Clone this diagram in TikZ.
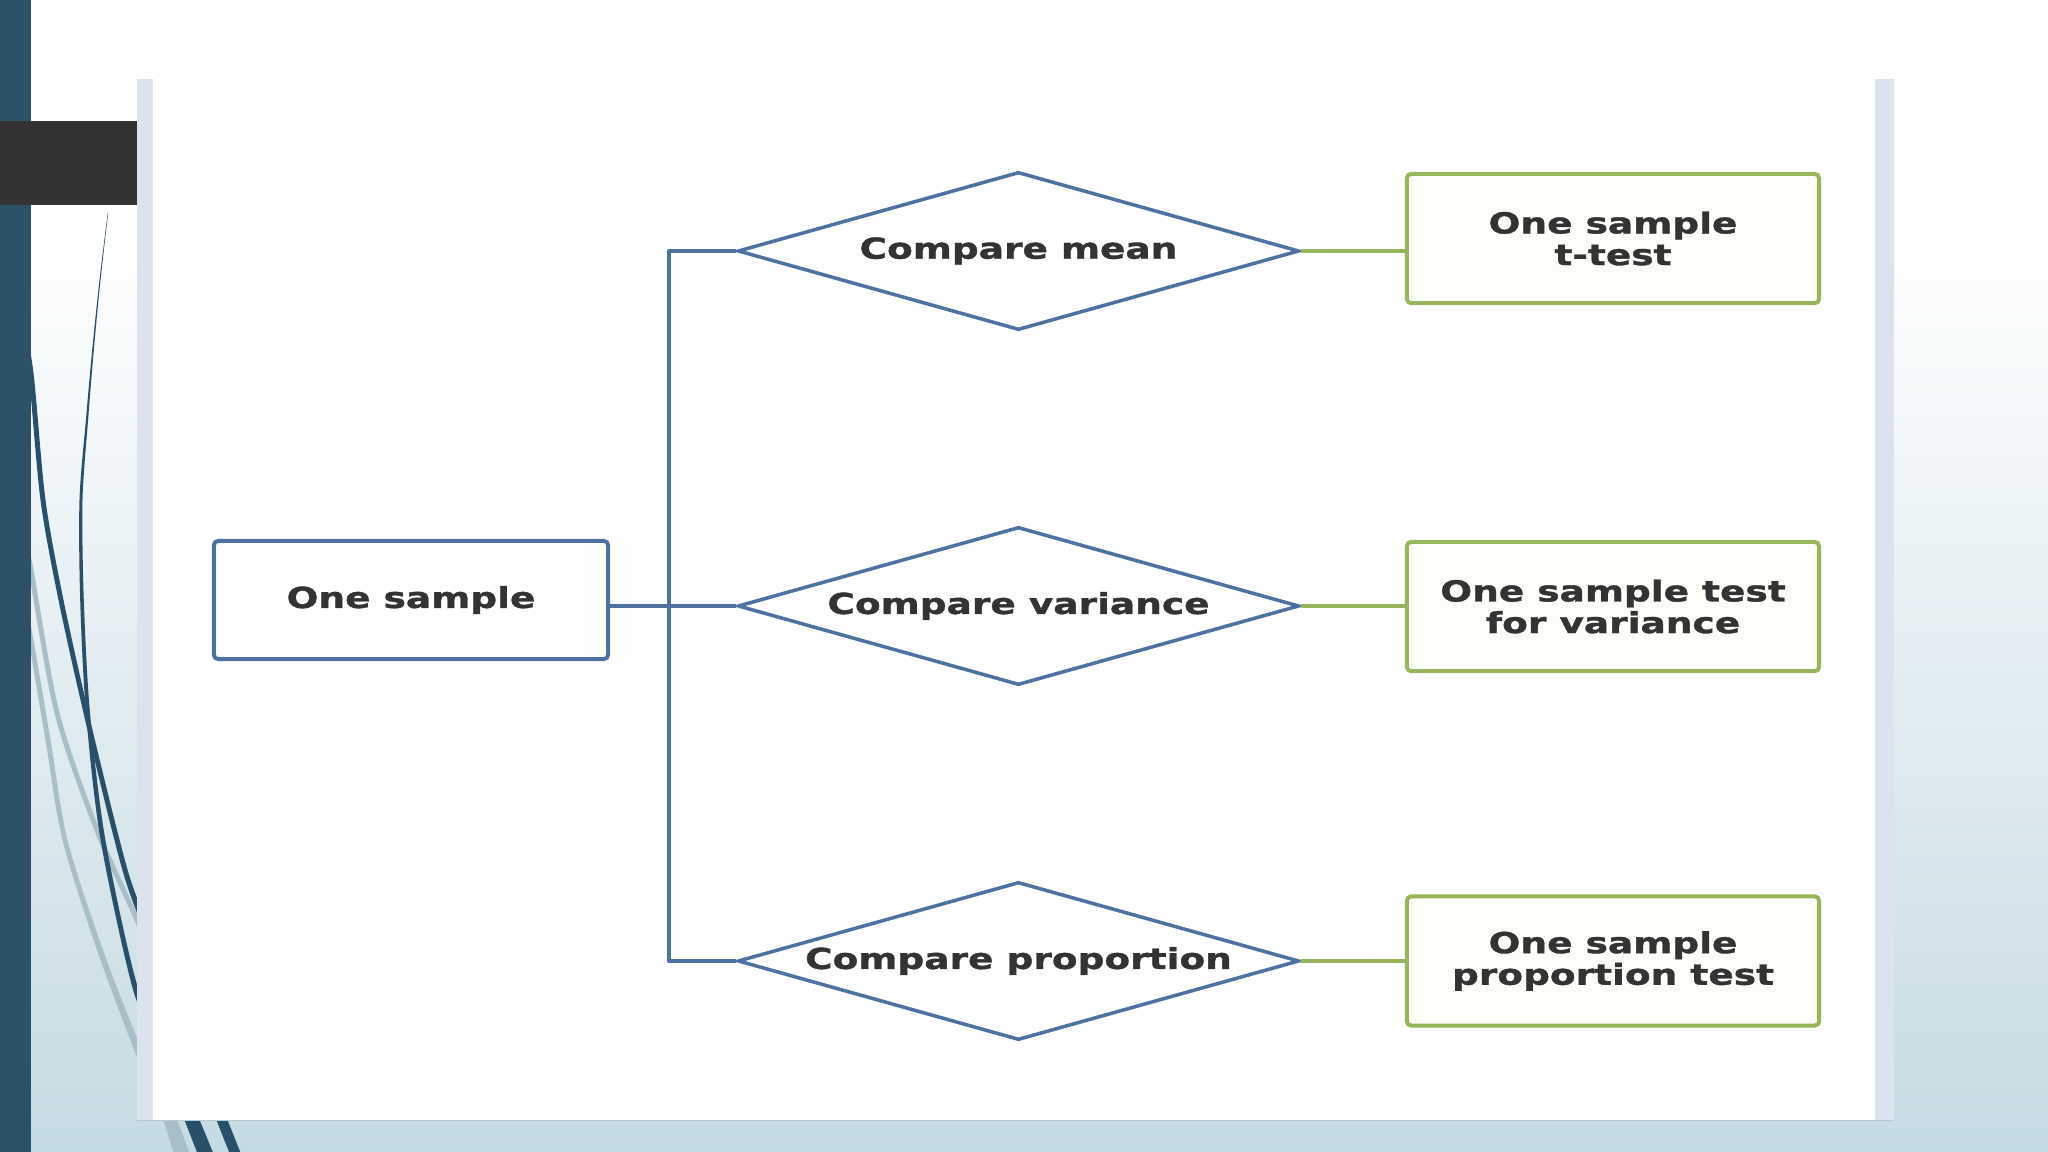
\documentclass[tikz,border=0pt]{standalone}
\usepackage{fontspec}
\setmainfont{DejaVu Sans}[FakeStretch=1.3, BoldFeatures={FakeBold=1.2}]
\usetikzlibrary{shapes.geometric}
\definecolor{barblue}{HTML}{2C5268}
\definecolor{curveblue}{HTML}{28506A}
\definecolor{lightcurve}{HTML}{A9BFC8}
\definecolor{bgblue}{HTML}{C5DBE3}
\definecolor{stripc}{HTML}{DDE3EE}
\definecolor{darkgray}{HTML}{333333}
\definecolor{lineblue}{HTML}{4D72A2}
\definecolor{linegreen}{HTML}{97B65C}
\definecolor{greenfill}{HTML}{FDFEF8}
\definecolor{txt}{HTML}{333333}
\newcommand\mylblfont{\bfseries\fontsize{8.2pt}{9pt}\selectfont\lineskiplimit=-20pt\relax}
\begin{document}
\begin{tikzpicture}[x=0.01cm,y=-0.01cm,
  lbl/.style={font=\mylblfont, text=txt, align=center},
  bluebox/.style={lbl, draw=lineblue, line width=0.04cm, fill=white, rounded corners=1.2pt, minimum width=3.94cm, minimum height=1.18cm, inner sep=0pt},
  decide/.style={lbl, shape=diamond, draw=lineblue, line width=0.035cm, fill=white, minimum width=5.61cm, minimum height=1.58cm, inner sep=0pt},
  resultbox/.style={lbl, draw=linegreen, line width=0.04cm, fill=greenfill, rounded corners=1.2pt, minimum width=4.12cm, minimum height=1.29cm, inner sep=0pt},
  bluelink/.style={draw=lineblue, line width=0.04cm, line join=round},
  greenlink/.style={draw=linegreen, line width=0.035cm},
]
\useasboundingbox (0,0) rectangle (2048,1152);
% background
\fill[white] (0,0) rectangle (2048,1152);
\shade[top color=white, bottom color=bgblue] (0,230) rectangle (2048,1152);
% light curves
\draw[lightcurve, line width=0.05cm] plot[smooth] coordinates {(25,540) (31,570) (57,713) (97,830) (137,920) (160,980)};
\fill[lightcurve] plot[smooth] coordinates {(22.5,610) (28.5,640) (45.5,740) (62.5,840) (97,950) (133,1047) (163,1120) (177,1165)}
  -- plot[smooth] coordinates {(193,1165) (177,1120) (141,1047) (103,950) (67.5,840) (50.5,740) (33.5,640) (27.5,610)} -- cycle;
% dark curves
\fill[curveblue] plot[smooth] coordinates {(107.8,213) (99.5,280) (92.2,350) (85.9,420) (79.5,500) (80.2,600) (86,713) (100.6,840) (132.3,987) (160,1055) (184.5,1120) (202,1165)}
  -- plot[smooth] coordinates {(218,1165) (199.5,1120) (170,1055) (137.7,987) (105.4,840) (90,713) (83.8,600) (82.5,500) (88.1,420) (93.8,350) (100.5,280) (108.2,213)} -- cycle;
\fill[curveblue] plot[smooth] coordinates {(17.5,310) (28.5,373) (40.5,500) (58.5,600) (83.5,713) (114.4,840) (132.2,900) (176,1010) (216.5,1120) (234.5,1165)}
  -- plot[smooth] coordinates {(245.5,1165) (227.5,1120) (184,1010) (137.8,900) (119.6,840) (88.5,713) (63.5,600) (45.5,500) (33.5,373) (22.5,310)} -- cycle;
% left bar
\fill[barblue] (0,0) rectangle (31,1152);
% panel
\fill[white] (137,79) rectangle (1894,1120);
\fill[stripc] (137,79) rectangle (153,1120);
\fill[stripc] (1875,79) rectangle (1894,1120);
\draw[bgblue!80!gray, line width=0.01cm] (137,1120) -- (1894,1120);
% dark gray tab
\fill[darkgray] (0,121) rectangle (137,205);
% diagram
\node[bluebox] (b0) at (411,600) {One sample};
\node[decide] (d1) at (1018.5,251) {\makebox[0pt]{Compare mean}};
\node[decide] (d2) at (1018.5,606) {\makebox[0pt]{Compare variance}};
\node[decide] (d3) at (1018.5,961) {\makebox[0pt]{Compare proportion}};
\node[resultbox] (g1) at (1613,238.5) {One sample\\t-test};
\node[resultbox] (g2) at (1613,606.5) {One sample test\\for variance};
\node[resultbox] (g3) at (1613,961) {One sample\\proportion test};
\coordinate (spine) at (669,606);
\draw[bluelink] (d1.west) -- (d1.west -| spine) -- (d3.west -| spine) -- (d3.west);
\draw[bluelink] (b0.east |- d2.west) -- (d2.west);
\draw[greenlink] (d1.east) -- (g1.west |- d1.east);
\draw[greenlink] (d2.east) -- (g2.west |- d2.east);
\draw[greenlink] (d3.east) -- (g3.west |- d3.east);
\end{tikzpicture}
\end{document}
